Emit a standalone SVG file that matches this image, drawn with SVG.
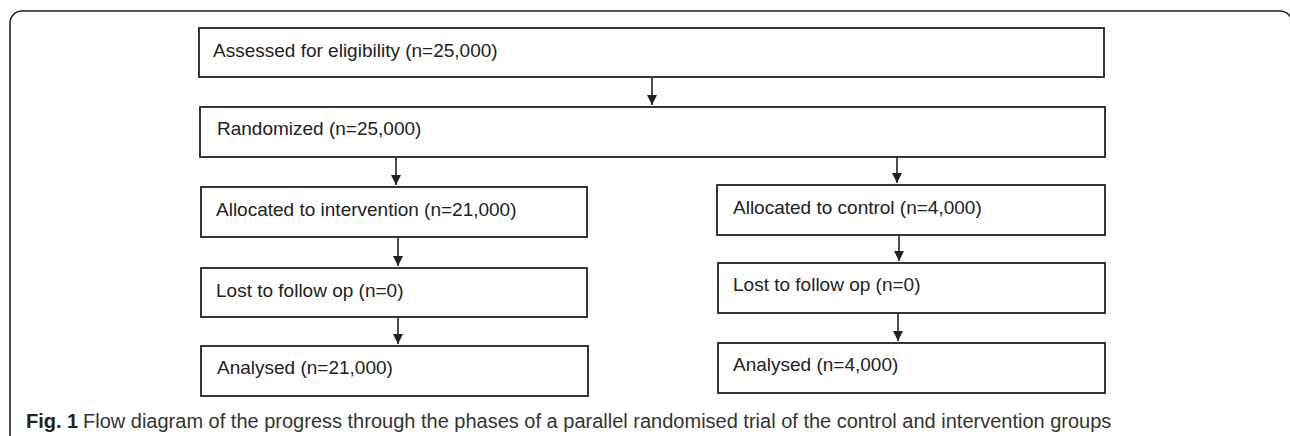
<svg xmlns="http://www.w3.org/2000/svg" width="1290" height="436" viewBox="0 0 1290 436">
<style>
.box{fill:#fff;stroke:#222;stroke-width:1.8}
.lbl{font-family:"Liberation Sans",Arial,sans-serif;font-size:19px;fill:#222}
.conn{stroke:#222;stroke-width:1.6;fill:none;marker-end:url(#ah)}
.cap{font-family:"Liberation Sans",Arial,sans-serif;font-size:20px;fill:#333}
</style>
<defs>
<marker id="ah" viewBox="0 0 10 10" refX="10" refY="5" markerWidth="10" markerHeight="10" markerUnits="userSpaceOnUse" orient="auto">
<path d="M0,0 L10,5 L0,10 Z" fill="#222"/>
</marker>
</defs>
<rect x="10" y="11" width="1282" height="480" rx="12" fill="#fff" stroke="#222" stroke-width="1.6"/>
<g id="connectors">
<line class="conn" x1="652" y1="78" x2="652" y2="105"/>
<line class="conn" x1="396" y1="157" x2="396" y2="185"/>
<line class="conn" x1="398" y1="237" x2="398" y2="266"/>
<line class="conn" x1="398" y1="317" x2="398" y2="344"/>
<line class="conn" x1="897" y1="157" x2="897" y2="183"/>
<line class="conn" x1="899" y1="235" x2="899" y2="261"/>
<line class="conn" x1="898" y1="313" x2="898" y2="341"/>
</g>
<g id="assessed">
<rect class="box" x="199" y="28" width="905" height="49"/>
<text class="lbl" x="213" y="57">Assessed for eligibility (n=25,000)</text>
</g>
<g id="randomized">
<rect class="box" x="200" y="107" width="905" height="50"/>
<text class="lbl" x="217" y="135">Randomized (n=25,000)</text>
</g>
<g id="alloc-intervention">
<rect class="box" x="201" y="187" width="386" height="50"/>
<text class="lbl" x="216" y="216">Allocated to intervention (n=21,000)</text>
</g>
<g id="lost-intervention">
<rect class="box" x="201" y="268" width="386" height="49"/>
<text class="lbl" x="216" y="297">Lost to follow op (n=0)</text>
</g>
<g id="analysed-intervention">
<rect class="box" x="201" y="346" width="387" height="50"/>
<text class="lbl" x="217" y="374">Analysed (n=21,000)</text>
</g>
<g id="alloc-control">
<rect class="box" x="717" y="185" width="388" height="50"/>
<text class="lbl" x="733" y="214">Allocated to control (n=4,000)</text>
</g>
<g id="lost-control">
<rect class="box" x="718" y="263" width="387" height="50"/>
<text class="lbl" x="733" y="291">Lost to follow op (n=0)</text>
</g>
<g id="analysed-control">
<rect class="box" x="718" y="343" width="387" height="50"/>
<text class="lbl" x="733" y="371">Analysed (n=4,000)</text>
</g>
<text class="cap" x="26" y="428"><tspan font-weight="bold" fill="#222">Fig. 1</tspan><tspan x="83">Flow diagram of the progress through the phases of a parallel randomised trial of the control and intervention groups</tspan></text>
</svg>
